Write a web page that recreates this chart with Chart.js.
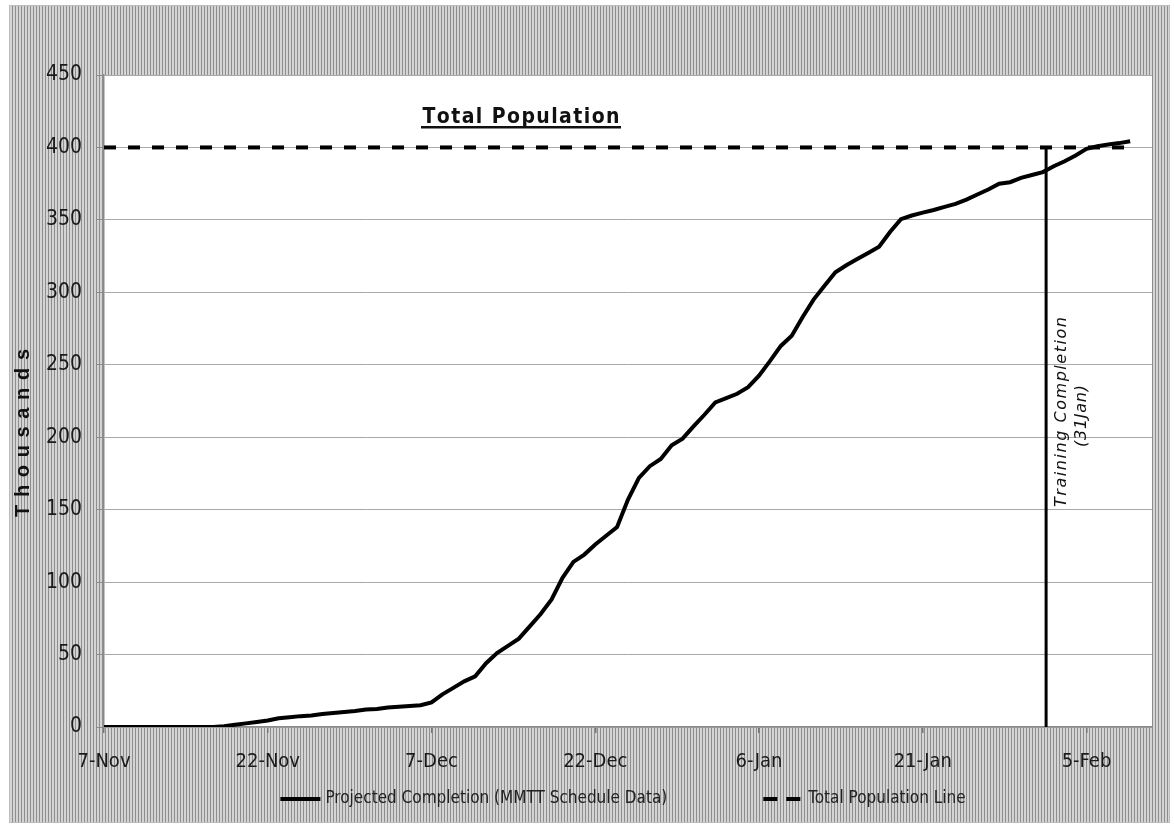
<!DOCTYPE html>
<html>
<head>
<meta charset="utf-8">
<script src="https://cdn.jsdelivr.net/npm/chart.js@4.4.0/dist/chart.umd.min.js"></script>
<style>
html,body{margin:0;padding:0;background:#fff;}
#frame{position:absolute;left:9px;top:5px;width:1161px;height:818px;box-sizing:border-box;border:1px solid #bdbdbd;
 background:repeating-linear-gradient(90deg,#d4d4d4 0px,#d4d4d4 2px,#8e8e8e 2px,#8e8e8e 3px);}
#wrap{position:absolute;left:0;top:0;width:1174px;height:827px;}
</style>
</head>
<body>
<div id="frame"></div>
<div id="wrap"><canvas id="c" width="1174" height="827"></canvas></div>
<script>
// ---- data ----
const tickLabels = ['7-Nov','22-Nov','7-Dec','22-Dec','6-Jan','21-Jan','5-Feb'];
// projected cumulative completion (thousands), one value per day starting 7-Nov
const projected = [
  0,0,0,0,0,0,0,0,0,0,
  0,0.5,1.5,2.5,3.5,4.5,6,6.8,7.5,8,
  9,9.7,10.3,11,12,12.5,13.5,14,14.5,15,
  17,22.5,27,31.5,35,44,51,56,61,69.5,
  78,88,103,114,119,126,132,138,157,172,
  180,185,194.5,199,207.5,215.5,224,227,230,234.5,
  242.5,252.5,263,270,283,295,304.6,313.8,318.7,323,
  327.2,331.5,341.6,350.5,353,355,356.8,359,361,364,
  367.5,371,375,376,379,381,383,387,390.5,394.5,
  399,400.8,402,403,404.3
];
const projectedDays = projected.map((_, i) => i);
const totalPopulation = [400, 400];
const totalPopulationDays = [0, 94];
const trainingCompletionDay = [86.3, 86.3];
const trainingCompletionValues = [0, 400];

const tickFont = "'Liberation Sans Narrow','DejaVu Sans Condensed',sans-serif";

function drawSpaced(ctx, text, cx, cy, target) {
  const chars = [...text];
  const widths = chars.map(c => ctx.measureText(c).width);
  const natural = widths.reduce((a, b) => a + b, 0);
  const sp = chars.length > 1 ? (target - natural) / (chars.length - 1) : 0;
  let x = cx - target / 2;
  ctx.textAlign = 'left';
  chars.forEach((c, i) => { ctx.fillText(c, x, cy); x += widths[i] + sp; });
}

const decor = {
  id: 'decor',
  beforeDraw(chart) {
    const {ctx, chartArea: a} = chart;
    ctx.save();
    ctx.fillStyle = '#ffffff';
    ctx.fillRect(a.left, a.top, a.right - a.left, a.bottom - a.top);
    ctx.restore();
  },
  afterDraw(chart) {
    const ctx = chart.ctx;
    ctx.save();
    ctx.fillStyle = '#111';
    // title
    ctx.font = "bold 21px 'Liberation Sans Narrow','DejaVu Sans Condensed',sans-serif";
    ctx.textBaseline = 'alphabetic';
    drawSpaced(ctx, 'Total Population', 521, 123, 197);
    ctx.fillRect(421, 126, 200, 2.5);
    // y title
    ctx.save();
    ctx.translate(23, 433);
    ctx.rotate(-Math.PI / 2);
    ctx.font = "bold 20px 'Liberation Sans',sans-serif";
    ctx.textBaseline = 'middle';
    drawSpaced(ctx, 'Thousands', 0, 0, 168);
    ctx.restore();
    // training completion text
    ctx.font = "italic 16px 'DejaVu Sans',sans-serif";
    ctx.textBaseline = 'middle';
    ctx.save();
    ctx.translate(1062, 412);
    ctx.rotate(-Math.PI / 2);
    drawSpaced(ctx, 'Training Completion', 0, 0, 190);
    ctx.restore();
    ctx.save();
    ctx.translate(1082, 416);
    ctx.rotate(-Math.PI / 2);
    drawSpaced(ctx, '(31Jan)', 0, 0, 62);
    ctx.restore();

    // legend (custom, from datasets 0 and 1)
    const items = chart.data.datasets.slice(0, 2);
    ctx.font = "17px " + tickFont;
    ctx.textBaseline = 'middle';
    ctx.textAlign = 'left';
    const sampleW = 40, textGap = 5, itemGap = 96, ly = 799;
    const widths = items.map(d => sampleW + textGap + ctx.measureText(d.label).width);
    const total = widths.reduce((a, b) => a + b, 0) + itemGap * (items.length - 1);
    let x = 623 - total / 2;
    items.forEach((d, i) => {
      ctx.save();
      ctx.strokeStyle = d.borderColor;
      ctx.lineWidth = 4;
      ctx.setLineDash(d.borderDash ? [14, 9] : []);
      ctx.beginPath();
      ctx.moveTo(x, ly); ctx.lineTo(x + sampleW, ly);
      ctx.stroke();
      ctx.restore();
      ctx.fillStyle = '#222';
      ctx.fillText(d.label, x + sampleW + textGap, ly);
      x += widths[i] + itemGap;
    });
    ctx.restore();
  }
};

new Chart(document.getElementById('c'), {
  type: 'line',
  data: {
    datasets: [
      {
        label: 'Projected Completion (MMTT Schedule Data)',
        data: projectedDays.map((d, i) => ({x: d, y: projected[i]})),
        borderColor: '#000', backgroundColor: '#000', borderWidth: 4,
        pointRadius: 0, tension: 0, order: 1
      },
      {
        label: 'Total Population Line',
        data: totalPopulationDays.map((d, i) => ({x: d, y: totalPopulation[i]})),
        borderColor: '#000', backgroundColor: '#000', borderWidth: 4,
        borderDash: [12, 12], pointRadius: 0, order: 2
      },
      {
        label: 'Training Completion',
        data: trainingCompletionDay.map((d, i) => ({x: d, y: trainingCompletionValues[i]})),
        borderColor: '#000', borderWidth: 3, pointRadius: 0, order: 3
      }
    ]
  },
  options: {
    responsive: false,
    animation: false,
    layout: {padding: {left: 9, right: 22, top: 75, bottom: 45}},
    plugins: {
      tooltip: {enabled: false},
      legend: {display: false}
    },
    scales: {
      x: {
        type: 'linear', min: 0, max: 96,
        afterFit: s => { s.height = 55; },
        border: {display: true, color: '#8a8a8a', width: 1.5},
        grid: {drawOnChartArea: false, drawTicks: true, tickLength: 6, color: '#777', lineWidth: 1.5},
        ticks: {
          stepSize: 15, includeBounds: false, autoSkip: false, maxRotation: 0,
          padding: 17, color: '#1a1a1a', font: {family: tickFont, size: 20},
          callback: v => tickLabels[Math.round(v / 15)] ?? ''
        }
      },
      y: {
        type: 'linear', min: 0, max: 450,
        afterFit: s => { s.width = 95; },
        border: {display: true, color: '#8a8a8a', width: 1.5},
        grid: {color: '#a8a8a8', lineWidth: 1, tickLength: 8, tickColor: '#8a8a8a'},
        ticks: {stepSize: 50, autoSkip: false, padding: 14, color: '#1a1a1a', font: {family: tickFont, size: 21}}
      }
    }
  },
  plugins: [decor]
});
</script>
</body>
</html>
